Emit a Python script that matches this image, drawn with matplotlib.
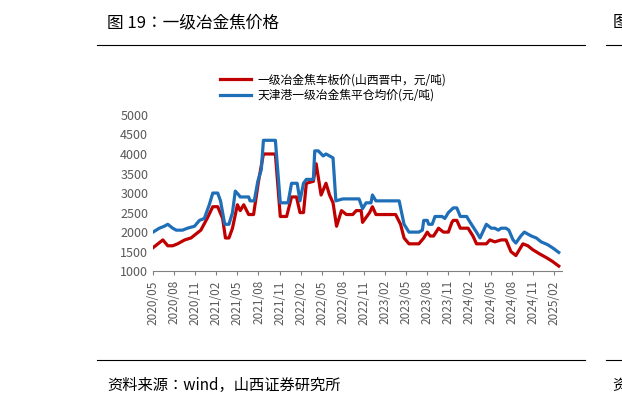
import matplotlib
matplotlib.use("Agg")
import matplotlib.pyplot as plt
from matplotlib.lines import Line2D
from matplotlib import font_manager

names = {f.name for f in font_manager.fontManager.ttflist}
cjk = [n for n in ["Noto Sans CJK SC", "Noto Sans CJK JP", "Noto Sans CJK TC", "Noto Sans CJK KR",
                   "Noto Sans SC", "Noto Sans CJK"] if n in names]
if not cjk:
    cjk = [n for n in names if "CJK" in n]
plt.rcParams['font.family'] = 'sans-serif'
plt.rcParams['font.sans-serif'] = cjk + ['DejaVu Sans']

tick_labels = ["2020/05","2020/08","2020/11","2021/02","2021/05","2021/08","2021/11",
               "2022/02","2022/05","2022/08","2022/11","2023/02","2023/05","2023/08",
               "2023/11","2024/02","2024/05","2024/08","2024/11","2025/02"]
# months since 2020/05
blue_m = [0.0,0.9,1.6,2.1,2.8,3.3,4.2,4.9,5.9,6.6,7.3,8.0,8.5,9.2,9.6,10.2,10.8,11.3,11.7,12.2,
          12.4,13.6,13.8,14.4,14.9,15.4,15.7,17.4,18.1,19.2,19.7,20.5,20.9,21.4,21.8,22.8,23.0,
          23.5,24.2,24.6,25.6,26.0,27.0,29.3,29.8,30.3,31.0,31.2,31.7,35.0,35.7,36.4,37.8,38.3,
          38.5,39.0,39.2,39.7,40.1,41.1,41.5,42.0,42.7,43.2,43.7,44.6,45.1,46.0,46.5,47.4,48.1,
          48.6,49.1,49.5,50.2,50.6,51.2,51.6,52.3,52.8,53.8,54.5,55.2,56.1,56.8,57.7]
blue_v = [2000,2100,2150,2200,2100,2050,2050,2100,2150,2300,2350,2700,3000,3000,2800,2200,2200,
          2500,3050,2950,2900,2900,2800,2800,3300,3600,4350,4350,2750,2750,3250,3250,2800,3250,
          3350,3350,4080,4080,3950,4000,3900,2800,2850,2850,2600,2750,2750,2950,2800,2800,2200,
          2000,2000,2050,2300,2300,2200,2200,2400,2400,2350,2500,2620,2620,2400,2400,2250,2000,
          1850,2200,2100,2100,2050,2100,2100,2050,1800,1720,1900,2000,1900,1850,1750,1680,1600,1480]
red_m = [0.0,0.7,1.4,2.1,2.8,3.5,4.5,5.4,6.1,6.8,7.7,8.5,9.2,9.9,10.3,10.8,11.3,12.0,12.4,12.9,
         13.6,14.3,15.0,15.7,17.4,18.1,19.0,19.7,20.4,20.9,21.4,21.8,22.8,23.2,23.9,24.6,25.1,
         25.6,26.1,26.8,27.5,28.4,28.9,29.6,29.8,30.8,31.2,31.7,34.5,35.2,35.7,36.4,37.8,38.5,
         39.0,39.4,39.9,40.6,41.3,42.0,42.5,42.7,43.2,43.7,44.8,45.5,46.0,47.4,47.9,48.6,49.5,
         50.2,50.9,51.6,52.6,53.3,54.0,54.9,55.9,56.8,57.7]
red_v = [1600,1700,1800,1650,1650,1700,1800,1850,1950,2050,2350,2650,2650,2350,1850,1850,2100,
         2700,2550,2700,2450,2450,3300,4000,4000,2400,2400,2900,2900,2500,2500,3250,3300,3750,
         2950,3250,2950,2750,2150,2550,2450,2450,2550,2550,2250,2500,2650,2450,2450,2200,1850,
         1700,1700,1850,2000,1900,1900,2100,2000,2000,2250,2300,2300,2100,2100,1900,1700,1700,
         1800,1750,1800,1800,1500,1400,1700,1650,1550,1450,1350,1250,1130]

fig = plt.figure(figsize=(6.22, 4.09), dpi=100)
ax = fig.add_axes([0.246, 0.337, 0.658, 0.382])
red_c, blue_c = "#C00000", "#1F6FB8"
ax.plot(red_m, red_v, color=red_c, lw=2.3)
ax.plot(blue_m, blue_v, color=blue_c, lw=2.3)
ax.set_xlim(0, 58.2)
ax.set_ylim(1000, 5000)
ax.set_yticks(range(1000, 5001, 500))
ax.set_xticks(range(0, 58, 3))
ax.set_xticklabels(tick_labels, rotation=90, fontsize=8.5, color="#595959")
ax.tick_params(axis='y', labelsize=9, colors="#595959", length=0)
ax.tick_params(axis='x', length=3, color="#808080")
for s in ["top", "right", "left"]:
    ax.spines[s].set_visible(False)
ax.spines["bottom"].set_color("#808080")

handles = [Line2D([], [], color=red_c, lw=2.3), Line2D([], [], color=blue_c, lw=2.3)]
fig.legend(handles, ["一级冶金焦车板价(山西晋中，元/吨)", "天津港一级冶金焦平仓均价(元/吨)"],
           loc="upper left", bbox_to_anchor=(0.345, 0.835), frameon=False, fontsize=8.5,
           handlelength=2.6, labelspacing=0.2, borderpad=0, handletextpad=0.5)

fig.text(0.172, 0.945, "图 19：一级冶金焦价格", fontsize=12, va="center", ha="left")
fig.text(0.172, 0.058, "资料来源：wind，山西证券研究所", fontsize=11, va="center", ha="left")
fig.text(0.985, 0.945, "图", fontsize=12, va="center", ha="left")
fig.text(0.985, 0.058, "资", fontsize=11, va="center", ha="left")
fig.add_artist(Line2D([0.156, 0.94], [0.89, 0.89], color="black", lw=0.8))
fig.add_artist(Line2D([0.156, 0.94], [0.12, 0.12], color="black", lw=0.8))
fig.add_artist(Line2D([0.975, 1.0], [0.89, 0.89], color="black", lw=0.8))
fig.add_artist(Line2D([0.975, 1.0], [0.12, 0.12], color="black", lw=0.8))
fig.savefig("out.png", dpi=100, facecolor="white")
